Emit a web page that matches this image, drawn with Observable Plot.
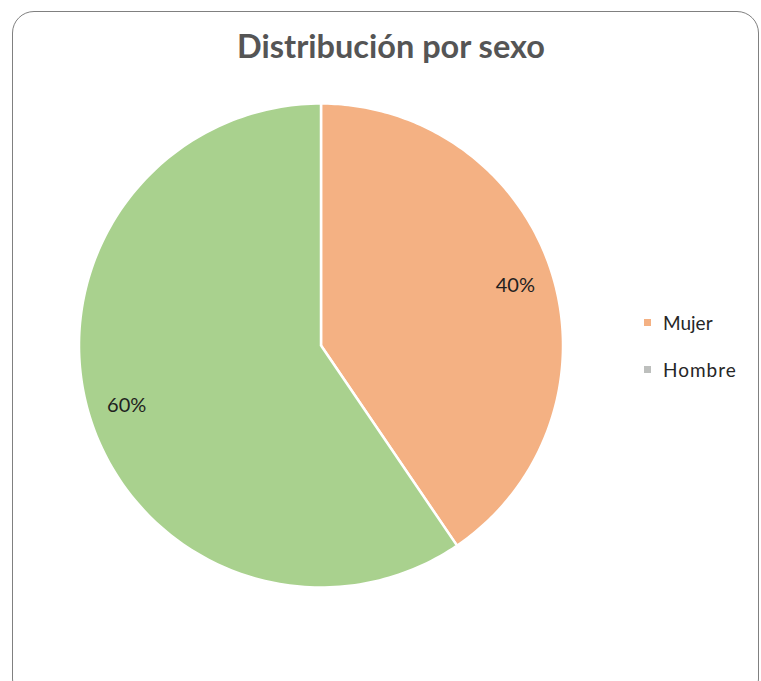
<!DOCTYPE html>
<html>
<head>
<meta charset="utf-8">
<script src="https://cdn.jsdelivr.net/npm/d3@7"></script>
<script src="https://cdn.jsdelivr.net/npm/@observablehq/plot@0.6"></script>
<style>
  body { margin: 0; background: #fff; }
  #wrap { position: relative; width: 761px; height: 681px; overflow: hidden; background: #fff; }
  #frame { position: absolute; left: 12px; top: 11px; width: 747px; height: 690px; border: 1.5px solid #808080; border-radius: 22px; box-sizing: border-box; }
  #title { position: absolute; left: 0; width: 782px; top: 26px; text-align: center; font-family: Lato, "Open Sans", sans-serif; font-weight: bold; font-size: 32.5px; color: #555; }
  #chart { position: absolute; left: 0; top: 0; }
  .leg { position: absolute; left: 644px; font-family: Lato, "Open Sans", sans-serif; font-size: 19px; color: #262626; display: flex; align-items: center; }
  .sw { width: 7px; height: 7px; margin-right: 12px; }
</style>
</head>
<body>
<div id="wrap">
  <div id="frame"></div>
  <div id="chart"></div>
  <div id="title">Distribución por sexo</div>
  <div id="legend"></div>
</div>
<script>
const categories = ["Mujer", "Hombre"];
const values = [40.5, 59.5];
const labels = ["40%", "60%"];
const sliceColors = ["#F4B183", "#A9D18E"];
const legendColors = ["#F4B183", "#BDBFBD"];

const pie = d3.pie().sort(null).value(d => d.value)(categories.map((c, i) => ({name: c, value: values[i], label: labels[i]})));

const pts = [];
const labelPts = [];
pie.forEach(s => {
  const n = 180;
  pts.push({name: s.data.name, x: 0, y: 0});
  for (let k = 0; k <= n; k++) {
    const a = s.startAngle + (s.endAngle - s.startAngle) * k / n;
    pts.push({name: s.data.name, x: Math.sin(a), y: Math.cos(a)});
  }
  pts.push({name: s.data.name, x: 0, y: 0});
  const m = (s.startAngle + s.endAngle) / 2;
  labelPts.push({name: s.data.name, label: s.data.label, x: 0.84 * Math.sin(m), y: 0.84 * Math.cos(m)});
});

const chart = Plot.plot({
  width: 761,
  height: 681,
  margin: 0,
  x: {domain: [-1, 1], range: [78.5, 562.5], axis: null},
  y: {domain: [-1, 1], range: [587, 103], axis: null},
  color: {domain: categories, range: sliceColors},
  marks: [
    Plot.line(pts, {x: "x", y: "y", z: "name", fill: "name", stroke: "white", strokeWidth: 2.5, curve: "linear"}),
    Plot.text(labelPts, {x: "x", y: "y", text: "label", fontSize: 20, fill: "#1f1f1f", fontFamily: "Lato, 'Open Sans', sans-serif"})
  ]
});
chart.style.background = "transparent";
document.getElementById("chart").appendChild(chart);

const legend = document.getElementById("legend");
categories.forEach((c, i) => {
  const row = document.createElement("div");
  row.className = "leg";
  row.style.top = (311 + i * 47) + "px";
  if (i === 1) row.style.letterSpacing = "1px";
  const sw = document.createElement("span");
  sw.className = "sw";
  sw.style.background = legendColors[i];
  row.appendChild(sw);
  row.appendChild(document.createTextNode(c));
  legend.appendChild(row);
});
</script>
</body>
</html>
